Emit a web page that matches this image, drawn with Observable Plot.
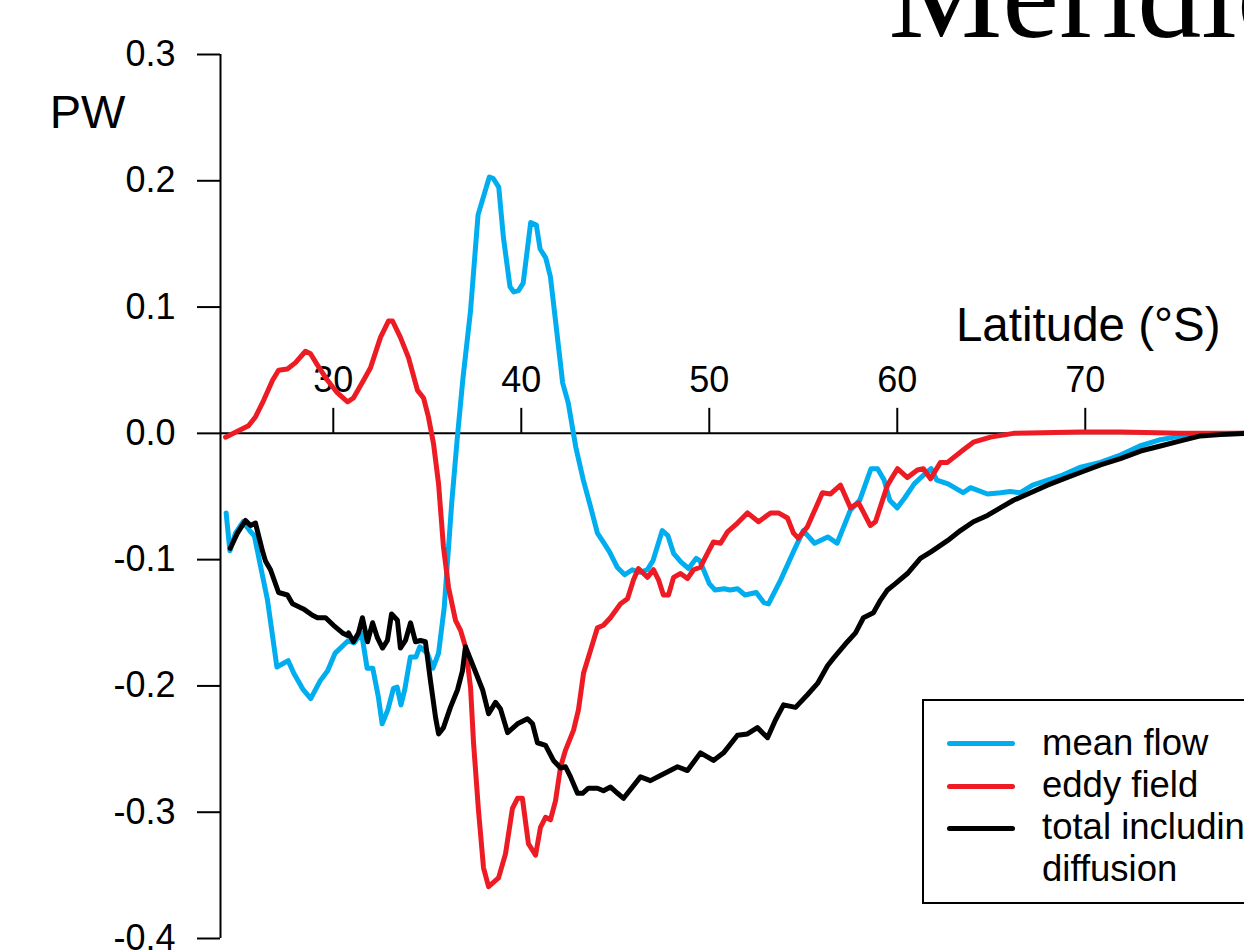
<!DOCTYPE html>
<html>
<head>
<meta charset="utf-8">
<script src="https://cdn.jsdelivr.net/npm/d3@7"></script>
<script src="https://cdn.jsdelivr.net/npm/@observablehq/plot@0.6"></script>
<style>
html, body { margin: 0; padding: 0; background: #fff; overflow: hidden; }
#wrap { position: relative; width: 1244px; height: 951px; overflow: hidden; font-family: "Liberation Sans", Arial, sans-serif; }
#legend { position: absolute; left: 922px; top: 699px; width: 400px; height: 201px; border: 2px solid #000; background: #fff; }
.sw { position: absolute; left: 23px; width: 68px; height: 5px; border-radius: 3px; }
.lab { position: absolute; left: 118px; font-size: 36.5px; line-height: 42px; white-space: pre; color: #000; }
</style>
</head>
<body>
<div id="wrap"></div>
<script>
// ---- data (latitude °S, PW) ----
const meanFlow = [[24.3,-0.063],[24.5,-0.093],[24.8,-0.079],[25.2,-0.070],[25.6,-0.078],[25.8,-0.081],[26.1,-0.103],[26.5,-0.132],[27.0,-0.185],[27.6,-0.180],[27.9,-0.190],[28.4,-0.203],[28.8,-0.210],[29.3,-0.196],[29.7,-0.188],[30.1,-0.174],[30.8,-0.164],[31.1,-0.166],[31.5,-0.158],[31.8,-0.186],[32.1,-0.186],[32.4,-0.209],[32.6,-0.230],[32.9,-0.219],[33.2,-0.202],[33.4,-0.201],[33.6,-0.215],[33.8,-0.203],[34.1,-0.177],[34.4,-0.177],[34.6,-0.169],[35.0,-0.174],[35.3,-0.186],[35.6,-0.174],[35.9,-0.138],[36.3,-0.055],[36.6,-0.003],[36.9,0.044],[37.3,0.097],[37.7,0.173],[38.3,0.203],[38.5,0.202],[38.8,0.195],[39.05,0.155],[39.4,0.116],[39.6,0.112],[39.85,0.113],[40.1,0.119],[40.5,0.167],[40.8,0.165],[41.0,0.146],[41.3,0.139],[41.55,0.124],[41.9,0.079],[42.2,0.040],[42.5,0.024],[42.9,-0.011],[43.3,-0.037],[43.7,-0.059],[44.05,-0.079],[44.4,-0.087],[44.7,-0.094],[45.1,-0.106],[45.5,-0.112],[45.9,-0.108],[46.3,-0.110],[46.7,-0.108],[47.0,-0.101],[47.5,-0.077],[47.8,-0.081],[48.1,-0.095],[48.5,-0.102],[48.9,-0.107],[49.3,-0.099],[49.5,-0.101],[50.0,-0.119],[50.3,-0.124],[50.8,-0.123],[51.1,-0.124],[51.5,-0.123],[51.9,-0.128],[52.5,-0.126],[52.9,-0.134],[53.15,-0.135],[53.8,-0.116],[54.5,-0.093],[55.0,-0.077],[55.6,-0.087],[56.3,-0.082],[56.8,-0.087],[57.5,-0.061],[58.0,-0.053],[58.6,-0.028],[58.95,-0.028],[59.3,-0.037],[59.6,-0.053],[60.0,-0.059],[60.4,-0.051],[60.9,-0.040],[61.4,-0.033],[61.8,-0.028],[62.1,-0.037],[62.7,-0.040],[63.5,-0.047],[63.9,-0.043],[64.8,-0.048],[65.5,-0.047],[66.0,-0.046],[66.55,-0.047],[67.2,-0.041],[68.0,-0.037],[68.8,-0.033],[69.7,-0.027],[70.8,-0.023],[71.9,-0.017],[72.9,-0.010],[74.0,-0.005],[75.1,-0.002],[76.1,-0.001],[78.47,0]];

const eddyField = [[24.27,-0.003],[24.69,0.000],[25.49,0.006],[25.86,0.013],[26.29,0.026],[26.77,0.042],[27.09,0.050],[27.56,0.051],[27.99,0.056],[28.52,0.065],[28.79,0.063],[29.16,0.054],[29.69,0.042],[30.22,0.032],[30.76,0.025],[31.07,0.028],[31.61,0.042],[31.98,0.052],[32.51,0.076],[32.94,0.089],[33.15,0.089],[33.57,0.076],[34.0,0.060],[34.48,0.034],[34.80,0.028],[35.06,0.013],[35.33,-0.008],[35.60,-0.040],[35.86,-0.090],[36.13,-0.122],[36.50,-0.148],[36.77,-0.156],[37.03,-0.169],[37.30,-0.201],[37.46,-0.245],[37.72,-0.298],[37.99,-0.344],[38.26,-0.359],[38.79,-0.352],[39.16,-0.333],[39.53,-0.297],[39.80,-0.289],[40.06,-0.289],[40.38,-0.325],[40.76,-0.334],[41.02,-0.312],[41.29,-0.304],[41.55,-0.306],[41.82,-0.291],[42.09,-0.264],[42.35,-0.251],[42.78,-0.235],[43.04,-0.219],[43.31,-0.190],[43.68,-0.172],[44.05,-0.154],[44.37,-0.152],[44.74,-0.146],[45.28,-0.135],[45.65,-0.131],[45.97,-0.116],[46.23,-0.107],[46.71,-0.114],[47.03,-0.108],[47.30,-0.116],[47.56,-0.128],[47.83,-0.128],[48.10,-0.114],[48.47,-0.111],[48.84,-0.115],[49.16,-0.108],[49.53,-0.106],[49.90,-0.095],[50.22,-0.086],[50.60,-0.087],[50.97,-0.078],[51.50,-0.071],[52.03,-0.063],[52.62,-0.070],[53.26,-0.063],[53.68,-0.063],[54.16,-0.067],[54.48,-0.079],[54.74,-0.083],[55.22,-0.074],[56.02,-0.047],[56.45,-0.048],[56.98,-0.041],[57.51,-0.059],[57.94,-0.055],[58.57,-0.073],[58.84,-0.070],[59.48,-0.041],[60.01,-0.028],[60.54,-0.035],[61.07,-0.029],[61.39,-0.028],[61.77,-0.036],[62.30,-0.023],[62.67,-0.023],[63.52,-0.013],[64.05,-0.007],[64.96,-0.003],[66.18,0.000],[69.74,0.001],[71.87,0.001],[75.06,0],[78.47,0]];

const totalDiff = [[24.52,-0.091],[24.90,-0.079],[25.33,-0.069],[25.60,-0.073],[25.86,-0.071],[26.23,-0.093],[26.39,-0.101],[26.66,-0.108],[27.09,-0.126],[27.56,-0.128],[27.83,-0.135],[28.41,-0.139],[28.89,-0.144],[29.16,-0.146],[29.59,-0.146],[30.01,-0.152],[30.49,-0.158],[30.76,-0.160],[30.81,-0.158],[31.07,-0.165],[31.34,-0.158],[31.55,-0.146],[31.82,-0.165],[32.09,-0.150],[32.35,-0.162],[32.62,-0.170],[32.88,-0.164],[33.10,-0.143],[33.41,-0.148],[33.57,-0.170],[33.84,-0.164],[34.11,-0.150],[34.37,-0.165],[34.64,-0.164],[34.90,-0.165],[35.17,-0.196],[35.44,-0.225],[35.60,-0.238],[35.86,-0.233],[36.23,-0.217],[36.61,-0.203],[36.87,-0.188],[37.03,-0.169],[37.46,-0.185],[37.94,-0.203],[38.26,-0.222],[38.63,-0.213],[38.89,-0.218],[39.27,-0.237],[39.80,-0.230],[40.33,-0.226],[40.60,-0.230],[40.86,-0.245],[41.29,-0.247],[41.71,-0.259],[42.09,-0.265],[42.35,-0.264],[42.62,-0.272],[42.99,-0.285],[43.26,-0.285],[43.57,-0.281],[44.05,-0.281],[44.37,-0.283],[44.74,-0.280],[45.12,-0.285],[45.44,-0.289],[46.34,-0.272],[46.87,-0.275],[47.40,-0.271],[48.31,-0.264],[48.84,-0.267],[49.53,-0.253],[50.22,-0.259],[50.76,-0.253],[51.50,-0.239],[52.03,-0.238],[52.56,-0.233],[53.10,-0.241],[53.52,-0.227],[53.95,-0.215],[54.59,-0.217],[55.22,-0.207],[55.76,-0.198],[56.29,-0.184],[56.61,-0.178],[57.35,-0.165],[57.78,-0.158],[58.20,-0.146],[58.73,-0.142],[59.11,-0.132],[59.48,-0.124],[59.90,-0.119],[60.54,-0.111],[61.23,-0.099],[61.77,-0.094],[62.67,-0.085],[63.36,-0.077],[64.05,-0.070],[64.80,-0.065],[65.48,-0.059],[66.18,-0.053],[67.09,-0.047],[67.99,-0.041],[68.84,-0.036],[69.74,-0.031],[70.81,-0.025],[71.87,-0.020],[72.94,-0.014],[74.00,-0.010],[75.06,-0.006],[76.13,-0.002],[77.19,-0.001],[78.47,0]];

const seriesNames = ["mean flow", "eddy field", "total including\ndiffusion"];
const seriesColors = ["#00AEEF", "#ED1C24", "#000000"];
const xTicks = [30, 40, 50, 60, 70];
const yTicks = [-0.4, -0.3, -0.2, -0.1, 0.0, 0.1, 0.2, 0.3];
const titleText = "Meridional";
const yLabel = "PW";
const xLabel = "Latitude (\u00B0S)";

// ---- build table ----
const seriesData = [meanFlow, eddyField, totalDiff];
const rows = [];
seriesData.forEach((arr, i) => arr.forEach(([lat, pw]) => rows.push({series: seriesNames[i], lat, pw})));

const sans = "Liberation Sans, Arial, sans-serif";

const chart = Plot.plot({
  width: 1244,
  height: 951,
  marginLeft: 220,
  marginRight: 0,
  marginTop: 54,
  marginBottom: 13,
  x: {domain: [24, 78.47], axis: null},
  y: {domain: [-0.4, 0.3]},
  color: {domain: seriesNames, range: seriesColors},
  style: {fontFamily: sans, fontSize: "36px", color: "#000", background: "#fff", overflow: "visible"},
  marks: [
    Plot.ruleX([24], {stroke: "#000", strokeWidth: 2}),
    Plot.axisY({ticks: yTicks, tickSize: 23, tickPadding: 22, tickFormat: d => d.toFixed(1), label: null, strokeWidth: 2, fontSize: 36, fontFamily: sans}),
    Plot.ruleY([0], {stroke: "#000", strokeWidth: 2}),
    Plot.ruleX(xTicks, {x: d => d, y1: 0, y2: 0, insetTop: -25, stroke: "#000", strokeWidth: 2}),
    Plot.text(xTicks, {x: d => d, y: 0, text: d => String(d), dy: -53, fontSize: 36, fontFamily: sans, fill: "#000"}),
    Plot.line(rows, {x: "lat", y: "pw", z: "series", stroke: "series", strokeWidth: 5, strokeLinejoin: "round", strokeLinecap: "round"}),
    Plot.text([titleText], {frameAnchor: "top-left", text: d => d, dx: 668, dy: -18, textAnchor: "start", lineAnchor: "bottom", fontSize: 128, fontFamily: "Liberation Serif, Times New Roman, serif", fill: "#000"}),
    Plot.text([yLabel], {frameAnchor: "top-left", text: d => d, dx: -133, dy: 73, textAnchor: "middle", lineAnchor: "bottom", fontSize: 47, fontFamily: sans, fill: "#000"}),
    Plot.text([xLabel], {frameAnchor: "top-right", text: d => d, dx: -24, dy: 286, textAnchor: "end", lineAnchor: "bottom", fontSize: 47.5, fontFamily: sans, fill: "#000"})
  ]
});

const wrap = document.getElementById("wrap");
wrap.appendChild(chart);

// ---- legend ----
const legend = document.createElement("div");
legend.id = "legend";
const swatchCenters = [42, 85, 127];
const labelTops = [21, 63, 105];
seriesNames.forEach((name, i) => {
  const sw = document.createElement("div");
  sw.className = "sw";
  sw.style.top = (swatchCenters[i] - 2.5) + "px";
  sw.style.background = seriesColors[i];
  legend.appendChild(sw);
  const lab = document.createElement("div");
  lab.className = "lab";
  lab.style.top = labelTops[i] + "px";
  lab.textContent = name;
  legend.appendChild(lab);
});
wrap.appendChild(legend);
</script>
</body>
</html>
